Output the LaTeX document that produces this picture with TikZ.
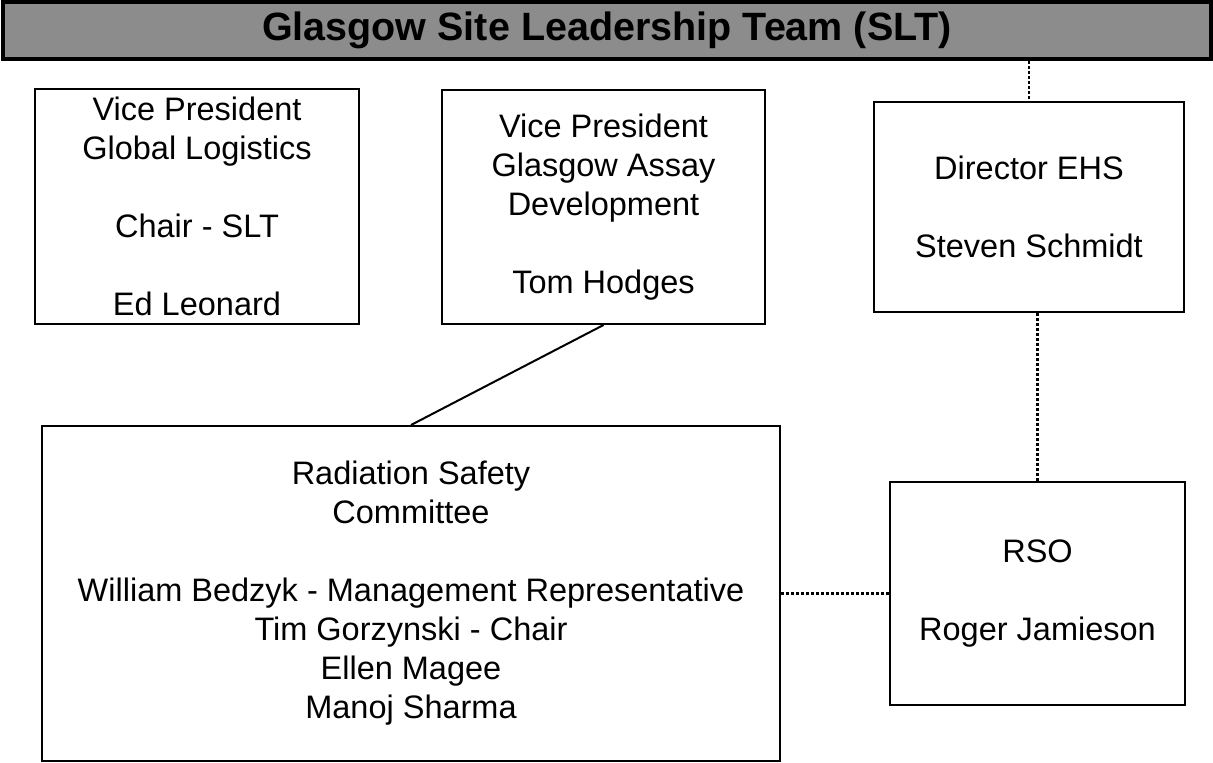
\documentclass[tikz,border=0pt]{standalone}
\usepackage{fontspec}
\setmainfont{Liberation Sans}
\begin{document}
\begin{tikzpicture}[x=1pt, y=-1pt,
    box/.style={draw=black, line width=2pt, align=center, inner sep=0pt,
      font=\fontsize{32.5}{39}\selectfont},
    link/.style={draw=black, line width=2.4pt, dash pattern=on 3pt off 2pt}]
            \useasboundingbox (0,0) rectangle (1213,763);

            % header
            \node[draw=black, line width=3.5pt, fill=black!45, minimum width=1208pt, minimum height=57pt, inner sep=0pt, font=\fontsize{39.5}{40}\selectfont\bfseries] (slt) at (607,30.5) {Glasgow Site Leadership Team (SLT)};

            % boxes
            \node[box, minimum width=324pt, minimum height=235pt] (vpgl) at (197,206.5) {Vice President\\Global Logistics\\[39pt]Chair - SLT\\[39pt]Ed Leonard};
            \node[box, minimum width=323pt, minimum height=234pt] (vpad) at (603.5,207) {Vice President\\Glasgow Assay\\Development\\[39pt]Tom Hodges};
            \node[box, minimum width=310pt, minimum height=210pt] (dir) at (1029,207) {Director EHS\\[39pt]Steven Schmidt};
            \node[box, minimum width=295pt, minimum height=223pt] (rso) at (1037.5,593.5) {RSO\\[39pt]Roger Jamieson};
            \node[box, minimum width=738pt, minimum height=335pt] (rsc) at (411,593.5) {Radiation Safety\\Committee\\[39pt]William Bedzyk - Management Representative\\Tim Gorzynski - Chair\\Ellen Magee\\Manoj Sharma};

            % lines
            \coordinate (sltdir) at (slt.south -| dir.north);
            \coordinate (dirrso) at (dir.south -| rso.north);
            \path [line width=2pt](vpad.south) edge (rsc.north);
            \path (sltdir) edge [link] (dir.north);
            \path (dirrso) edge [link] (rso.north);
            \path (rsc.east) edge [link] (rso.west);
        \end{tikzpicture}
\end{document}
